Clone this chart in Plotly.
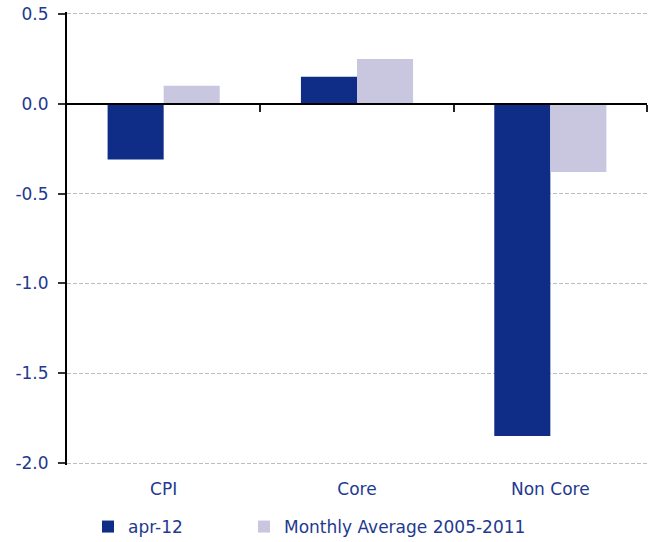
import plotly.graph_objects as go

categories = ["CPI", "Core", "Non Core"]
apr12 = [-0.31, 0.15, -1.85]
monthly_avg = [0.10, 0.25, -0.38]
series_names = ["apr-12", "Monthly Average 2005-2011"]
y_ticks = [0.5, 0.0, -0.5, -1.0, -1.5, -2.0]
y_tick_text = ["0.5", "0.0", "-0.5", "-1.0", "-1.5", "-2.0"]

text_color = "#22398F"
font_family = "DejaVu Sans, Verdana, sans-serif"
fs = 17

fig = go.Figure()
fig.add_trace(go.Bar(x=categories, y=apr12, name=series_names[0], legend="legend",
                     marker=dict(color="#0F2C87", line=dict(width=0))))
fig.add_trace(go.Bar(x=categories, y=monthly_avg, name=series_names[1], legend="legend2",
                     marker=dict(color="#C9C7E0", line=dict(width=0))))
# invisible helper trace to draw category axis at zero
fig.add_trace(go.Scatter(x=[0, 3], y=[0, 0], xaxis="x2", yaxis="y",
                         mode="lines", line=dict(width=0), opacity=0,
                         showlegend=False, hoverinfo="skip"))

W, H, ML, MR, MT, MB = 653, 542, 67, 6, 12, 77
PW = W - ML - MR
PH = H - MT - MB
Y_LO, Y_HI = -2.011, 0.511

def px_to_paper_x(px):
    return (px - ML) / PW

def px_to_paper_y(py):
    return (H - MB - py) / PH

legend_common = dict(orientation="h", xanchor="left", y=px_to_paper_y(527), yanchor="middle",
                     font=dict(size=fs, color=text_color, family=font_family),
                     itemwidth=30, bgcolor="rgba(0,0,0,0)")

fig.update_layout(
    width=W, height=H,
    margin=dict(l=ML, r=MR, t=MT, b=MB, autoexpand=False),
    paper_bgcolor="white", plot_bgcolor="white",
    font=dict(family=font_family, size=fs, color=text_color),
    barmode="group", bargap=0.42, bargroupgap=0,
    showlegend=True,
    legend=dict(x=px_to_paper_x(88), **legend_common),
    legend2=dict(x=px_to_paper_x(244), **legend_common),
    xaxis=dict(type="category", range=[-0.5, 2.5], showgrid=False, showline=False,
               ticks="", ticklabelstandoff=12, zeroline=False, automargin=False,
               tickfont=dict(size=fs, color=text_color)),
    xaxis2=dict(overlaying="x", anchor="free", position=(0 - Y_LO) / (Y_HI - Y_LO),
                range=[0, 3],
                showgrid=False, showline=True, linecolor="black", linewidth=2,
                ticks="outside", ticklen=7, tickwidth=2, tickcolor="#222222",
                tickvals=[1, 2, 3], showticklabels=False, zeroline=False, automargin=False),
    yaxis=dict(range=[Y_LO, Y_HI], tickvals=y_ticks, ticktext=y_tick_text,
               showgrid=True, gridcolor="#BDBDBD", griddash="4px,2px", gridwidth=1,
               showline=True, linecolor="black", linewidth=2,
               ticks="outside", ticklen=7, tickwidth=2, tickcolor="#333333",
               ticklabelstandoff=6, automargin=False,
               zeroline=False, tickfont=dict(size=fs, color=text_color)),
)

fig.write_html("out.html", config={"displayModeBar": False},
               post_script="document.body.style.margin='0';document.body.style.padding='0';")
